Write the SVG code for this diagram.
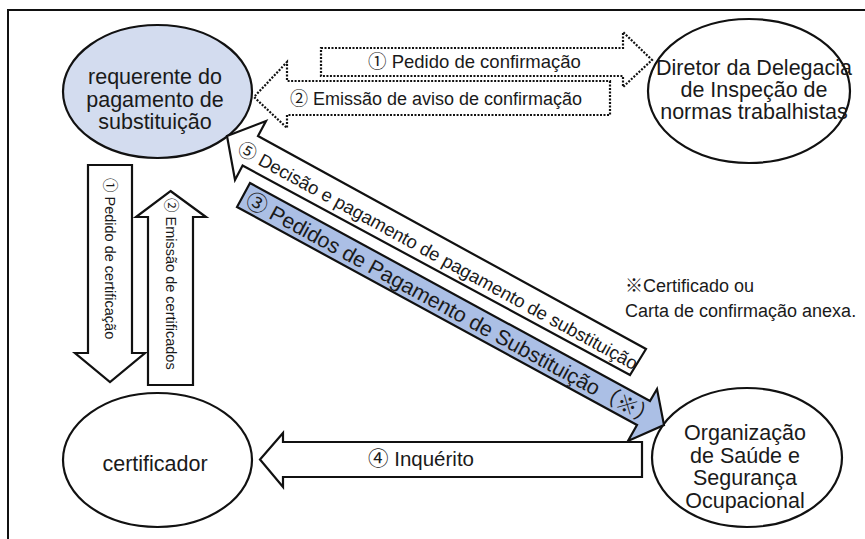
<svg xmlns="http://www.w3.org/2000/svg" width="865" height="539" viewBox="0 0 865 539">
<style>
text{font-family:"Liberation Sans","Noto Sans CJK JP",sans-serif;fill:#1a1a1a}
.node{stroke:#111;stroke-width:2.2}
.arrow{fill:#fff;stroke:#111;stroke-width:2.2;stroke-linejoin:miter}
.dot{fill:#fff;stroke:#111;stroke-width:2.2;stroke-dasharray:2 1.5}
.blue{fill:#abbfe5}
.nt{font-size:21.5px;text-anchor:middle}
.lb{font-size:18px}
.vt{font-size:14.5px}
</style>
<rect x="8" y="10" width="880" height="560" fill="#fff" stroke="#111" stroke-width="2"/>
<g id="node-requerente">
<ellipse class="node" cx="157.5" cy="91.5" rx="94.5" ry="66.5" fill="#d3dcef"/>
<text class="nt" x="155" y="84">requerente do</text>
<text class="nt" x="155" y="106.5">pagamento de</text>
<text class="nt" x="155" y="129">substituição</text>
</g>
<g id="node-diretor">
<ellipse class="node" cx="749" cy="91" rx="101" ry="72" fill="#fff"/>
<text class="nt" x="754" y="75">Diretor da Delegacia</text>
<text class="nt" x="754" y="97">de Inspeção de</text>
<text class="nt" x="754" y="119">normas trabalhistas</text>
</g>
<g id="node-certificador">
<ellipse class="node" cx="157.5" cy="460" rx="94.5" ry="67" fill="#fff"/>
<text class="nt" x="155" y="471">certificador</text>
</g>
<g id="node-organizacao">
<ellipse class="node" cx="747" cy="457.5" rx="95" ry="69.5" fill="#fff"/>
<text class="nt" x="745" y="440">Organização</text>
<text class="nt" x="745" y="462.5">de Saúde e</text>
<text class="nt" x="745" y="485">Segurança</text>
<text class="nt" x="745" y="507.5">Ocupacional</text>
</g>
<g id="connectors">
<g id="arrow-pedido-confirmacao">
<polygon class="dot" points="321,48 623,48 623,32 652,60 623,87 623,76 321,76"/>
<text class="lb" x="368" y="68" style="font-size:18.5px">① Pedido de confirmação</text>
</g>
<g id="arrow-emissao-aviso">
<polygon class="dot" points="610,81 610,115 287,115 287,128 254,97 287,62 287,81"/>
<text class="lb" x="290" y="105">② Emissão de aviso de confirmação</text>
</g>
<g id="arrow-pedido-certificacao">
<polygon class="arrow" points="88,165 132,165 132,353 145,353 110,382 75,353 88,353"/>
<text class="vt" transform="translate(105,178) rotate(90)">① Pedido de certificação</text>
</g>
<g id="arrow-emissao-certificados">
<polygon class="arrow" points="170.5,191 206,217 193,217 193,385 148,385 148,217 136,217"/>
<text class="vt" transform="translate(165.5,198) rotate(90)">② Emissão de certificados</text>
</g>
<g id="arrow-decisao">
<polygon class="arrow" points="227,136 266,121 258,136 646,349 630,375 242.6,165.5 235,180"/>
<text class="lb" style="font-size:18.4px" transform="translate(236.3,152.6) rotate(28.74)">⑤ Decisão e pagamento de pagamento de substituição</text>
</g>
<g id="arrow-pedidos-pagamento">
<polygon class="arrow blue" points="250,183 650,401 657,389 664,425 628,441 637,425 237,207"/>
<text style="font-size:21.3px" transform="translate(243.9,204.7) rotate(28.6)">③ Pedidos de Pagamento de Substituição（※）</text>
</g>
<g id="arrow-inquerito">
<polygon class="arrow" points="642,442 642,477 283,477 283,487 260,459.5 283,433 283,442"/>
<text style="font-size:20.5px" x="368" y="466">④ Inquérito</text>
</g>
</g>
<g id="note">
<text class="lb" x="625" y="292">※Certificado ou</text>
<text class="lb" x="625" y="317">Carta de confirmação anexa.</text>
</g>
</svg>
